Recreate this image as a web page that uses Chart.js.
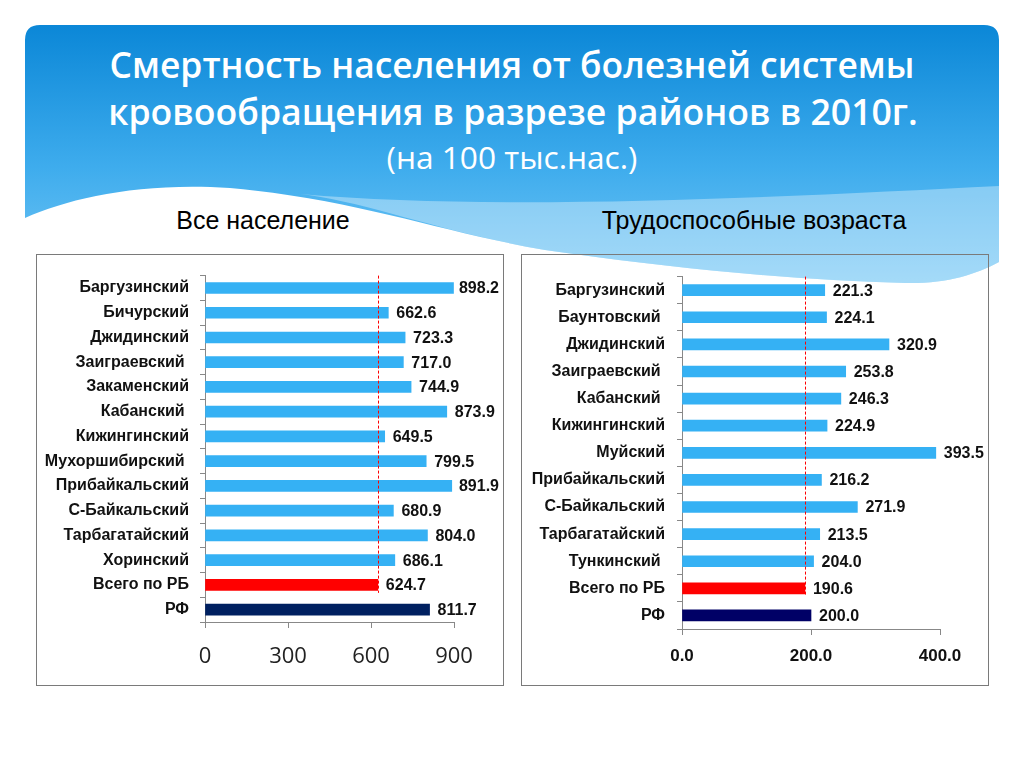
<!DOCTYPE html>
<html>
<head>
<meta charset="utf-8">
<script src="https://cdn.jsdelivr.net/npm/chart.js@4.4.1/dist/chart.umd.min.js"></script>
<style>
  html, body { margin:0; padding:0; background:#fff; }
  body { width:1024px; height:768px; position:relative; overflow:hidden; }
  #bg { position:absolute; left:0; top:0; z-index:0; }
  .t { position:absolute; white-space:nowrap; transform:translate(-50%,-50%); line-height:1; z-index:2; }
  .title { color:#fff; font-family:"Open Sans", sans-serif; font-weight:600; }
  .sec { color:#000; font-family:"Liberation Sans", Arial, sans-serif; font-size:25px; }
  .panel { position:absolute; top:254px; width:466px; height:430px; border:1px solid #7a7a7a; z-index:1; }
  .panel canvas { position:absolute; left:0; top:0; }
</style>
</head>
<body>
<svg id="bg" width="1024" height="768" viewBox="0 0 1024 768">
  <defs>
    <linearGradient id="g" x1="0" y1="0" x2="0" y2="1">
      <stop offset="0" stop-color="#0b87d7"/>
      <stop offset="0.55" stop-color="#3eaced"/>
      <stop offset="1" stop-color="#74c7f5"/>
    </linearGradient>
  </defs>
  <path d="M25,40 Q25,25 40,25 L984,25 Q999,25 999,40 L999,262 C975,275 945,284 905,283 C780,280 650,265 545,250 C440,232 360,200 230,188 C140,182 70,198 25,218 Z" fill="url(#g)"/>
  <path d="M300,194 C500,212 800,196 999,186 L999,262 C975,275 945,284 905,283 C780,280 650,265 545,250 C440,232 360,200 300,194 Z" fill="#ffffff" fill-opacity="0.35"/>
</svg>

<span class="t title" id="t1" style="left:512px; top:65px;">Смертность населения от болезней системы</span>
<span class="t title" id="t2" style="left:513px; top:112px;">кровообращения в разрезе районов в 2010г.</span>
<span class="t title" id="t3" style="left:512px; top:157px; font-weight:400;">(на 100 тыс.нас.)</span>
<span class="t sec" style="left:263px; top:220px;">Все население</span>
<span class="t sec" style="left:754px; top:220px;">Трудоспособные возраста</span>

<div class="panel" style="left:36px;"><canvas id="c1" width="466" height="430"></canvas></div>
<div class="panel" style="left:521px;"><canvas id="c2" width="466" height="430"></canvas></div>

<script>
// ---------- data ----------
const leftCategories = ["Баргузинский","Бичурский","Джидинский","Заиграевский ","Закаменский","Кабанский ","Кижингинский","Мухоршибирский ","Прибайкальский","С-Байкальский","Тарбагатайский","Хоринский","Всего по РБ","РФ"];
const leftValues = [898.2,662.6,723.3,717.0,744.9,873.9,649.5,799.5,891.9,680.9,804.0,686.1,624.7,811.7];
const leftTicks = [0,300,600,900];

const rightCategories = ["Баргузинский","Баунтовский ","Джидинский","Заиграевский ","Кабанский ","Кижингинский","Муйский","Прибайкальский","С-Байкальский","Тарбагатайский","Тункинский ","Всего по РБ","РФ"];
const rightValues = [221.3,224.1,320.9,253.8,246.3,224.9,393.5,216.2,271.9,213.5,204.0,190.6,200.0];
const rightTicks = [0,200,400];

// ---------- title fitting ----------
function fit(id, target){
  const el = document.getElementById(id);
  el.style.fontSize = '40px';
  const w = el.getBoundingClientRect().width;
  el.style.fontSize = (40 * target / w) + 'px';
}
fit('t1', 805); fit('t2', 810); fit('t3', 251);

// ---------- chart ----------
const FONT = '"Liberation Sans", Arial, sans-serif';
const refLabelPlugin = {
  id: 'refLabels',
  afterDatasetsDraw(chart, args, o) {
    const ctx = chart.ctx;
    const meta = chart.getDatasetMeta(0);
    const xs = chart.scales.x;
    const vals = chart.data.datasets[0].data;
    const refIdx = o.refIndex;
    // dashed reference line at the regional (РБ) value
    const rx = Math.round(xs.getPixelForValue(vals[refIdx])) + 0.5;
    const rb = meta.data[refIdx];
    ctx.save();
    ctx.strokeStyle = '#ff0000';
    ctx.lineWidth = 1;
    ctx.setLineDash([3,2]);
    ctx.beginPath();
    ctx.moveTo(rx, chart.chartArea.top);
    ctx.lineTo(rx, rb.y + 8);
    ctx.stroke();
    ctx.setLineDash([]);
    // value labels
    ctx.font = 'bold 16px ' + FONT;
    ctx.fillStyle = '#111';
    ctx.textBaseline = 'middle';
    ctx.textAlign = 'left';
    meta.data.forEach((bar, i) => {
      const txt = vals[i].toFixed(1);
      const w = ctx.measureText(txt).width;
      let x = bar.x + 8;
      if (x + w > chart.width - 4) x = chart.width - 4 - w;
      ctx.fillText(txt, x, bar.y + 1);
    });
    ctx.restore();
  }
};

function makeChart(id, cats, vals, ticks, cfg) {
  const n = cats.length;
  return new Chart(document.getElementById(id), {
    type: 'bar',
    data: {
      labels: cats,
      datasets: [{
        data: vals,
        barThickness: 11,
        backgroundColor: (c) => c.dataIndex === n - 2 ? '#ff0000' : (c.dataIndex === n - 1 ? cfg.navy : '#35b1f4'),
        borderWidth: 0
      }]
    },
    options: {
      indexAxis: 'y',
      responsive: false,
      animation: false,
      layout: { padding: { top: cfg.top, right: cfg.right, left: 0, bottom: 0 } },
      plugins: {
        legend: { display: false },
        tooltip: { enabled: false },
        refLabels: { refIndex: n - 2 }
      },
      scales: {
        y: {
          grid: { drawOnChartArea: false, drawTicks: true, tickLength: 5, color: '#888', offset: true },
          border: { color: '#888' },
          ticks: { font: { family: FONT, size: 16, weight: 'bold' }, color: '#111', padding: cfg.yPad },
          afterFit: (s) => { s.width = cfg.yWidth; }
        },
        x: {
          min: ticks[0],
          max: ticks[ticks.length - 1],
          afterBuildTicks: (s) => { s.ticks = ticks.map(v => ({ value: v })); },
          grid: { drawOnChartArea: false, drawTicks: true, tickLength: 6, color: '#888' },
          border: { color: '#888' },
          ticks: {
            font: cfg.xFont,
            color: cfg.xColor,
            padding: cfg.xPad,
            maxRotation: 0,
            callback: cfg.xFmt
          },
          afterFit: (s) => { s.height = cfg.xHeight; }
        }
      }
    },
    plugins: [refLabelPlugin]
  });
}

makeChart('c1', leftCategories, leftValues, leftTicks, {
  navy: '#002060', top: 17, right: 49, yWidth: 168, yPad: 11, xHeight: 63, xPad: 16,
  xFont: { family: '"Open Sans", sans-serif', size: 22, weight: 'normal' }, xColor: '#222',
  xFmt: (v) => String(v)
});
makeChart('c2', rightCategories, rightValues, rightTicks, {
  navy: '#000066', top: 15, right: 48, yWidth: 160, yPad: 12, xHeight: 56, xPad: 11,
  xFont: { family: FONT, size: 17, weight: 'bold' }, xColor: '#111',
  xFmt: (v) => Number(v).toFixed(1)
});
</script>
</body>
</html>
